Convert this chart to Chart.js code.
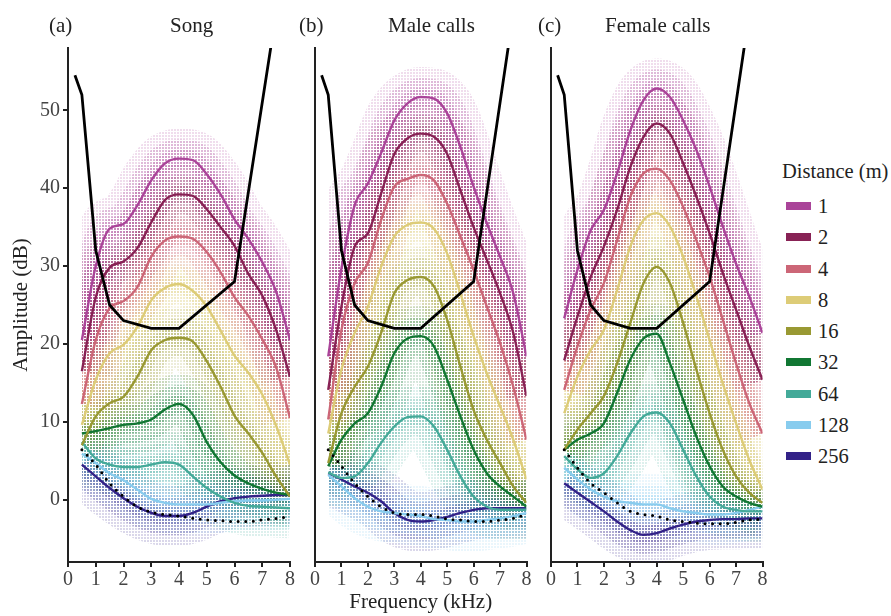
<!DOCTYPE html>
<html>
<head>
<meta charset="utf-8">
<script src="https://cdn.jsdelivr.net/npm/chart.js@4/dist/chart.umd.min.js"></script>
<style>
html,body{margin:0;padding:0;background:#fff;}
#wrap{position:relative;width:891px;height:616px;overflow:hidden;font-family:"Liberation Serif",serif;color:#222;}
canvas{position:absolute;top:0;}
.t{position:absolute;white-space:nowrap;font-size:21px;line-height:20px;color:#222;}
.lg{position:absolute;white-space:nowrap;font-size:20.5px;line-height:20px;color:#222;}
.sw{position:absolute;width:25px;height:8px;}
</style>
</head>
<body>
<div id="wrap">
<canvas id="ca" width="305" height="616" style="left:0px"></canvas>
<canvas id="cb" width="235" height="616" style="left:305px"></canvas>
<canvas id="cc" width="235" height="616" style="left:540px"></canvas>
<div class="t" style="left:49px;top:15px">(a)</div>
<div class="t" style="left:170px;top:15px">Song</div>
<div class="t" style="left:299px;top:15px">(b)</div>
<div class="t" style="left:388px;top:15px">Male calls</div>
<div class="t" style="left:538px;top:15px">(c)</div>
<div class="t" style="left:605px;top:15px">Female calls</div>
<div id="legend"></div>
</div>
<script>
// ---- data ----
const freq = [0.5,1,1.5,2,2.5,3,3.5,4,4.5,5,5.5,6,6.5,7,7.5,8]; // kHz
const distances = ['1','2','4','8','16','32','64','128','256']; // m
const distColors = ['#AA4499','#882255','#CC6677','#DDCC77','#999933','#117733','#44AA99','#88CCEE','#332288'];

// (a) Song
const song1   = [20.5,30,34.8,35.4,37.8,41,43.2,43.8,43.6,41.8,39.2,36,33.5,30.5,26.7,20.5];
const song2   = [16.5,26,29.8,30.6,32.3,35.6,38.5,39.2,39,37.3,35,32.6,29,26.2,21.8,15.8];
const song4   = [12.3,20.5,24.6,25.5,27.3,31.2,33.3,33.8,33.5,31.8,29.2,26,23.6,20.6,17,10.5];
const song8   = [9.6,15.4,18.8,19.9,22.2,25.6,27.2,27.7,26.8,24.8,21.7,18.5,16.3,13.5,9.5,4.5];
const song16  = [7,10.7,12.4,13.2,15.8,19.2,20.5,20.8,20.3,17.8,14.5,10.8,8.5,6,3,0.4];
const song32  = [8.5,8.8,9.2,9.6,9.8,10.3,11.6,12.3,10.9,7.4,4.8,3.1,2.1,1.4,0.9,0.6];
const song64  = [7.4,5.3,4.5,4.2,4.2,4.5,4.8,4.5,3,1.5,0.4,-0.4,-0.8,-0.9,-1,-1.1];
const song128 = [5.9,4.7,3.4,2.5,1.3,0.1,-0.4,-0.6,-0.6,-0.6,-0.4,-0.2,-0.1,-0.1,0,0.1];
const song256 = [4.5,3,1.5,0.2,-0.9,-1.7,-2.1,-2.1,-1.7,-0.9,-0.2,0.2,0.4,0.5,0.6,0.6];
const songFloor = [6.4,4.5,2.1,0.4,-0.9,-1.6,-1.9,-2.1,-2.4,-2.6,-2.7,-2.8,-2.8,-2.6,-2.4,-2.2];

// (b) Male calls
const male1   = [18.4,29.7,37.8,40.6,44.5,48.7,50.9,51.7,51.5,49.6,45.3,40.2,35.5,31.2,26.5,18.4];
const male2   = [14.1,24.8,32.5,34.2,39.3,44.4,46.4,47,46.6,44.4,39.7,35,30.8,26.5,21.4,13.3];
const male4   = [10.3,21.8,27.8,30.4,35.9,40.2,41.2,41.7,41,38,33.8,29.5,24.8,20.1,14.5,7.7];
const male8   = [8.5,16.7,21.4,24.8,29.9,33.8,35.3,35.6,34.8,31.6,26.5,21,16.2,12,7.7,2.6];
const male16  = [4.7,11.1,14.5,17.1,21.4,26.5,28.2,28.6,27.4,23.1,17.1,11.5,7.7,4.7,1.7,-0.4];
const male32  = [4.3,7.7,9.8,11.1,14.5,18.8,20.7,21,19.7,15.4,10.7,6.4,3.4,1.7,0.4,-0.9];
const male64  = [3.5,2.8,3,4.7,7.3,9.4,10.6,10.7,9.4,6.4,3,0.4,-0.9,-1.3,-1.3,-1.3];
const male128 = [3.2,1.7,0.2,-0.9,-1.5,-1.7,-1.9,-2.1,-2.5,-2.6,-2.8,-2.8,-2.6,-2.4,-2.1,-1.7];
const male256 = [3.4,2.6,1.7,0.9,-0.2,-1.7,-2.6,-2.8,-2.6,-2.2,-1.7,-1.3,-1.1,-1.1,-1.1,-1.1];
const maleFloor = [6.4,4.3,2.1,0.4,-0.9,-1.7,-1.9,-1.9,-2.1,-2.5,-2.6,-2.8,-2.8,-2.6,-2.4,-1.9];

// (c) Female calls
const female1   = [23.3,29.5,34.6,37.2,41.9,47.4,51.3,52.8,51.7,48.7,44.9,40.2,35.1,30.3,26.1,21.4];
const female2   = [17.9,23.5,28.6,32.5,37.2,42.7,46.6,48.3,47,43.2,38.9,34.2,29.1,24.4,19.7,15.4];
const female4   = [14.1,19.7,24.4,27.8,33.3,38.9,41.9,42.5,41,37.6,33.3,28.6,23.1,17.5,12.4,8.5];
const female8   = [11.1,15.8,19.2,21.8,26.9,32.5,35.9,36.8,35.1,31.2,26.1,20.5,14.9,9.8,5.1,1.3];
const female16  = [6.4,9,11.1,13.3,17.5,22.7,27.8,29.9,27.8,22.7,16.7,11.1,6.4,3,0.9,-0.4];
const female32  = [6.4,7.7,8.5,9.8,13.7,18,20.7,21.3,17.5,12.8,8.1,4.3,1.7,0.4,-0.4,-0.9];
const female64  = [5.6,3.9,2.8,3.4,5.6,8.5,10.7,11.2,9.8,6.4,3,0.4,-0.9,-1.3,-1.5,-1.5];
const female128 = [4.1,2.6,1.3,0.4,-0.2,-0.4,-0.6,-0.6,-1.1,-1.5,-1.7,-1.9,-1.9,-1.7,-1.3,-0.9];
const female256 = [2.1,0.9,-0.3,-1.5,-2.8,-3.9,-4.5,-4.3,-3.7,-3.2,-2.8,-2.6,-2.5,-2.5,-2.4,-2.4];
const femaleFloor = [6.4,4.1,2.1,0.9,-0.4,-1.5,-1.9,-2.1,-2.6,-2.8,-3,-3.1,-3.1,-2.9,-2.6,-2.5];

// hearing threshold (black line)
const thrFreq = [0.25,0.5,1,1.5,2,3,4,6,8];
const thrDb   = [54.5,52,32,25,23,22,22,28,74];

const xTicks = [0,1,2,3,4,5,6,7,8];
const yTicks = [0,10,20,30,40,50];

// ---- helpers ----
const FONT = '"Liberation Serif", serif';
function rgba(hex, a) {
  const n = parseInt(hex.slice(1), 16);
  return `rgba(${(n>>16)&255},${(n>>8)&255},${n&255},${a})`;
}
// dotted texture (mimics the dense scatter of individual measurements)
function dotPattern(hex, a) {
  const c = document.createElement('canvas');
  c.width = 3; c.height = 3;
  const g = c.getContext('2d');
  g.fillStyle = rgba(hex, a);
  g.fillRect(0, 0, 2, 2);
  return g.createPattern(c, 'repeat');
}
const pts = (xs, ys) => xs.map((x, i) => ({x: x, y: ys[i]}));

const haloClip = {
  id: 'haloClip',
  beforeDatasetDraw(chart, args) {
    const ds = chart.data.datasets[args.index];
    if (!ds.halo) return;
    const a = chart.chartArea, xs = chart.scales.x, ctx = chart.ctx;
    const l = xs.getPixelForValue(freq[0]);
    ctx.save();
    ctx.beginPath();
    ctx.rect(l, a.top, a.right - l, a.bottom - a.top);
    ctx.clip();
  },
  afterDatasetDraw(chart, args) {
    const ds = chart.data.datasets[args.index];
    if (ds.halo) chart.ctx.restore();
  }
};

const haloLayers = [{w: 60, a: 0.18, o: 7}, {w: 38, a: 0.23, o: 6}, {w: 18, a: 0.26, o: 5}];

function makePanel(id, curves, floor, cfg) {
  const datasets = [];
  curves.forEach((arr, i) => {
    const base = {data: pts(freq, arr), pointRadius: 0, fill: false, cubicInterpolationMode: 'monotone',
                  borderJoinStyle: 'round', borderCapStyle: 'butt'};
    haloLayers.forEach(L => {
      datasets.push(Object.assign({}, base, {halo: true, borderColor: dotPattern(distColors[i], L.a), borderWidth: L.w, order: L.o}));
    });
    datasets.push(Object.assign({}, base, {label: distances[i] + ' m', borderColor: distColors[i], borderWidth: 2.4, order: 3}));
  });
  datasets.push({data: pts(thrFreq, thrDb), pointRadius: 0, fill: false, tension: 0, borderColor: '#000', borderWidth: 2.8, order: 1});
  datasets.push({data: pts(freq, floor), pointRadius: 0, fill: false, cubicInterpolationMode: 'monotone',
                 borderColor: '#000', borderWidth: 3, borderDash: [0, 7.6], borderCapStyle: 'round', order: 0});

  new Chart(document.getElementById(id), {
    type: 'line',
    data: {datasets: datasets},
    plugins: [haloClip],
    options: {
      responsive: false, animation: false, devicePixelRatio: 1, events: [],
      layout: {padding: {top: 48, right: cfg.right, left: 0, bottom: 0}},
      plugins: {legend: {display: false}, tooltip: {enabled: false}, title: {display: false}},
      scales: {
        x: {
          type: 'linear', min: 0, max: 8,
          ticks: {stepSize: 1, autoSkip: false, maxRotation: 0, color: '#444', padding: 1, font: {family: FONT, size: 20}},
          afterBuildTicks: s => { s.ticks = xTicks.map(v => ({value: v})); },
          grid: {drawOnChartArea: false, drawTicks: true, tickLength: 5, color: '#222', lineWidth: 2},
          border: {display: true, color: '#222', width: 2},
          title: {display: !!cfg.xTitle, text: cfg.xTitle || '', color: '#222', font: {family: FONT, size: 21}, padding: {top: 0, bottom: 1}},
          afterFit: s => { s.height = 54; }
        },
        y: {
          type: 'linear', min: -8, max: 58,
          ticks: {display: cfg.yLabels, stepSize: 10, color: '#444', padding: 3, font: {family: FONT, size: 20}},
          afterBuildTicks: s => { s.ticks = yTicks.map(v => ({value: v})); },
          grid: {display: cfg.yLabels, drawOnChartArea: false, drawTicks: true, tickLength: 5, color: '#222', lineWidth: 2},
          border: {display: true, color: '#222', width: 2},
          title: {display: !!cfg.yTitle, text: cfg.yTitle || '', color: '#222', font: {family: FONT, size: 21}, padding: {top: 9, bottom: 0}},
          afterFit: s => { s.width = cfg.yWidth; }
        }
      }
    }
  });
}

makePanel('ca', [song1,song2,song4,song8,song16,song32,song64,song128,song256], songFloor,
          {right: 15, yWidth: 68, yLabels: true, yTitle: 'Amplitude (dB)'});
makePanel('cb', [male1,male2,male4,male8,male16,male32,male64,male128,male256], maleFloor,
          {right: 13.5, yWidth: 10, yLabels: false, xTitle: 'Frequency (kHz)'});
makePanel('cc', [female1,female2,female4,female8,female16,female32,female64,female128,female256], femaleFloor,
          {right: 12.5, yWidth: 11, yLabels: false});

// ---- legend ----
const lg = document.getElementById('legend');
let html = '<div class="lg" style="left:782px;top:161px">Distance (m)</div>';
distances.forEach((d, i) => {
  const cy = 206 + i * 31.25;
  html += `<div class="sw" style="left:786px;top:${(cy - 4).toFixed(1)}px;background:${distColors[i]}"></div>`;
  html += `<div class="lg" style="left:818px;top:${(cy - 10).toFixed(1)}px">${d}</div>`;
});
lg.innerHTML = html;
</script>
</body>
</html>
